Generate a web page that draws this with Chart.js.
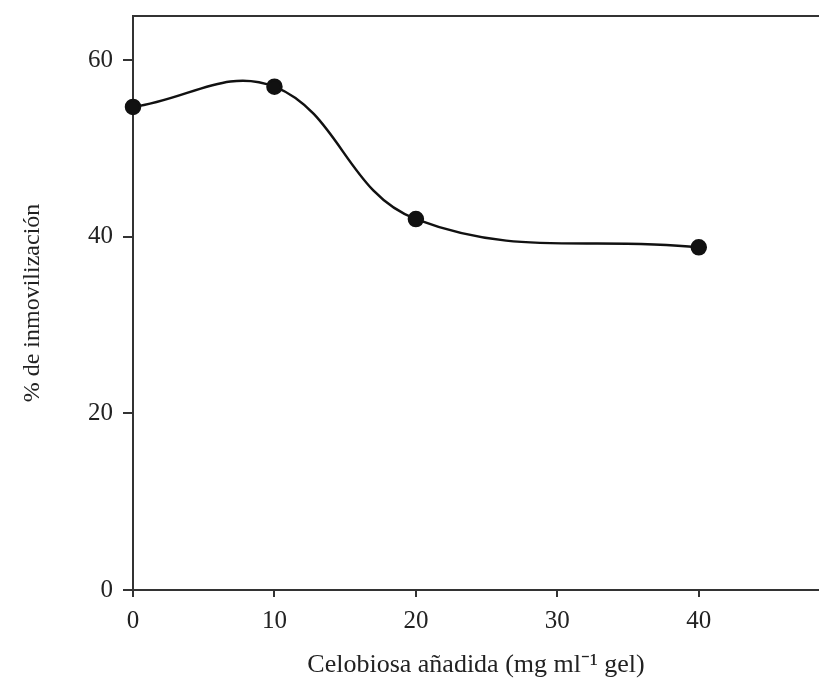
<!DOCTYPE html>
<html><head><meta charset="utf-8">
<script src="https://cdn.jsdelivr.net/npm/chart.js@4"></script>
<style>html,body{margin:0;padding:0;background:#fff}#wrap{width:819px;height:685px}</style>
</head><body><div id="wrap"><canvas id="c" width="819" height="685"></canvas></div>
<script>
const xValues = [0, 10, 20, 40];
const yValues = [54.7, 57.0, 42.0, 38.8];
const xTicks = [0, 10, 20, 30, 40];
const yTicks = [0, 20, 40, 60];
const xTitle = 'Celobiosa añadida (mg ml\u207B\u00B9 gel)';
const yTitle = '% de inmovilización';

const frame = {
  id: 'frame',
  afterDraw(chart) {
    const {ctx, chartArea: a} = chart;
    ctx.save();
    ctx.strokeStyle = '#333';
    ctx.lineWidth = 2;
    ctx.beginPath();
    ctx.moveTo(a.left, a.top);
    ctx.lineTo(a.right, a.top);
    ctx.stroke();
    ctx.restore();
  }
};

const fam = '"Liberation Serif", "Times New Roman", serif';
const font = {family: fam, size: 25};

new Chart(document.getElementById('c'), {
  type: 'scatter',
  data: {
    datasets: [{
      data: xValues.map((x, i) => ({x, y: yValues[i]})),
      showLine: true,
      borderColor: '#111',
      backgroundColor: '#111',
      borderWidth: 2.5,
      pointRadius: 7,
      pointHoverRadius: 7,
      tension: 0.4,
      clip: false
    }]
  },
  options: {
    responsive: false,
    animation: false,
    layout: {autoPadding: false, padding: {top: 16, right: 0, left: 0, bottom: 0}},
    plugins: {legend: {display: false}, tooltip: {enabled: false}},
    scales: {
      x: {
        type: 'linear', min: 0, max: 48.5,
        afterBuildTicks: s => { s.ticks = xTicks.map(v => ({value: v})); },
        afterFit: s => { s.height = 95; s.paddingLeft = 0; s.paddingRight = 0; },
        grid: {drawOnChartArea: false, drawTicks: true, tickLength: 7, color: '#333', lineWidth: 2},
        border: {color: '#333', width: 2},
        ticks: {color: '#222', font, padding: 9, maxRotation: 0},
        title: {display: true, text: xTitle, color: '#222', font: {family: fam, size: 26}, padding: {top: 10}}
      },
      y: {
        type: 'linear', min: 0, max: 65,
        afterBuildTicks: s => { s.ticks = yTicks.map(v => ({value: v})); },
        afterFit: s => { s.width = 133; s.paddingTop = 0; s.paddingBottom = 0; },
        grid: {drawOnChartArea: false, drawTicks: true, tickLength: 10, color: '#333', lineWidth: 2},
        border: {color: '#333', width: 2},
        ticks: {color: '#222', font, padding: 10},
        title: {display: true, text: yTitle, color: '#222', font: {family: fam, size: 24}, padding: {top: 18}}
      }
    }
  },
  plugins: [frame]
});
</script></body></html>
